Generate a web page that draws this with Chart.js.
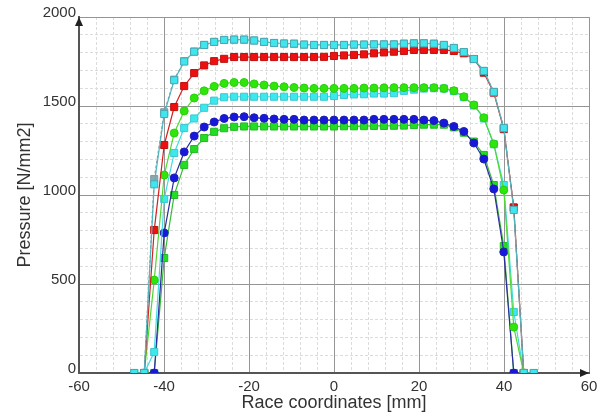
<!DOCTYPE html>
<html>
<head>
<meta charset="utf-8">
<script src="https://cdn.jsdelivr.net/npm/chart.js@4/dist/chart.umd.min.js"></script>
<style>
  html, body { margin: 0; padding: 0; background: #fff; overflow: hidden; }
  #wrap { width: 597px; height: 415px; overflow: hidden; }
</style>
</head>
<body>
<div id="wrap"><canvas id="pressureChart" width="640" height="415"></canvas></div>
<script>
// race coordinate of each sample [mm]
const raceX = [-47.0, -44.65, -42.3, -39.95, -37.6, -35.25, -32.9, -30.55, -28.2, -25.85,
    -23.5, -21.15, -18.8, -16.45, -14.1, -11.75, -9.4, -7.05, -4.7, -2.35, 0,
    2.35, 4.7, 7.05, 9.4, 11.75, 14.1, 16.45, 18.8, 21.15, 23.5, 25.85, 28.2,
    30.55, 32.9, 35.25, 37.6, 39.95, 42.3, 44.65, 47.0];

// pressure curves [N/mm2]
const cyanTop = [0, 0, 1060, 1455, 1645, 1750, 1805, 1843, 1860, 1871, 1873, 1873, 1868, 1860,
    1854, 1851, 1850, 1845, 1843, 1843, 1843, 1843, 1845, 1845, 1846, 1846, 1846, 1850, 1852,
    1852, 1850, 1843, 1826, 1803, 1764, 1697, 1579, 1376, 916, 0, 0];
const grayTop = [null, 0, 1090, 1465, 1648, 1752, 1806, 1843, 1860, 1871, 1873, 1873, 1868, 1860,
    1854, 1851, 1850, 1845, 1843, 1843, 1843, 1843, 1845, 1845, 1846, 1846, 1846, 1850, 1852,
    1852, 1850, 1843, 1826, 1803, 1764, 1697, 1579, 1376, 930, 0, null];
const redCurve = [null, 0, 803, 1281, 1494, 1612, 1685, 1728, 1752, 1765, 1775, 1775, 1775, 1775,
    1775, 1775, 1775, 1775, 1775, 1776, 1781, 1784, 1787, 1790, 1796, 1801, 1805, 1809, 1815,
    1815, 1815, 1815, 1809, 1796, 1764, 1687, 1575, 1370, 930, 0, null];
const greenUpper = [null, 0, 522, 1112, 1348, 1472, 1545, 1585, 1610, 1627, 1632, 1632, 1624, 1618,
    1612, 1608, 1604, 1601, 1599, 1599, 1599, 1599, 1599, 1601, 1601, 1602, 1603, 1603, 1603,
    1603, 1603, 1599, 1586, 1552, 1506, 1434, 1287, 1028, 258, 0, null];
const cyanLower = [0, 0, 118, 978, 1236, 1376, 1430, 1490, 1530, 1549, 1552, 1552, 1552, 1552,
    1552, 1552, 1552, 1552, 1552, 1552, 1556, 1562, 1565, 1566, 1570, 1570, 1572, 1585, 1592,
    1598, 1600, 1598, 1584, 1550, 1503, 1430, 1285, 1056, 343, 0, 0];
const blueCurve = [null, null, 0, 787, 1096, 1242, 1331, 1382, 1410, 1430, 1438, 1440, 1434, 1431,
    1427, 1425, 1425, 1421, 1421, 1421, 1421, 1421, 1421, 1421, 1425, 1425, 1425, 1425, 1425,
    1421, 1418, 1404, 1385, 1357, 1292, 1202, 1034, 680, 0, null, null];
const greenLower = [null, null, 0, 646, 1000, 1169, 1258, 1320, 1355, 1375, 1383, 1385, 1385, 1385,
    1385, 1385, 1385, 1385, 1385, 1385, 1385, 1386, 1386, 1387, 1388, 1388, 1389, 1390, 1393,
    1395, 1395, 1395, 1380, 1350, 1300, 1225, 1056, 713, 0, null, null];

function toPoints(values) {
    return raceX.map((x, i) => ({ x, y: values[i] })).filter(p => p.y !== null);
}

function series(values, line, fill, edge, shape, dash) {
    return {
        data: toPoints(values),
        borderColor: line,
        borderWidth: 1.2,
        borderDash: dash || [],
        backgroundColor: fill,
        pointBackgroundColor: fill,
        pointBorderColor: edge,
        pointBorderWidth: 1,
        pointStyle: shape,
        pointRadius: shape === "rect" ? 5 : 4,
        tension: 0,
        fill: false
    };
}

const font = "'Liberation Sans', Arial, sans-serif";

const arrows = {
    id: "arrows",
    afterDraw(chart) {
        const { ctx, chartArea: a } = chart;
        ctx.save();
        ctx.fillStyle = "#222";
        ctx.beginPath();
        ctx.moveTo(a.left, a.top);
        ctx.lineTo(a.left - 4, a.top + 9);
        ctx.lineTo(a.left + 4, a.top + 9);
        ctx.fill();
        ctx.beginPath();
        ctx.moveTo(a.right, a.bottom);
        ctx.lineTo(a.right - 9, a.bottom - 4);
        ctx.lineTo(a.right - 9, a.bottom + 4);
        ctx.fill();
        ctx.restore();
    }
};

new Chart(document.getElementById("pressureChart"), {
    type: "line",
    data: {
        datasets: [
            series(cyanTop, "#52b6bf", "#3fe6ee", "#4aa9b2", "rect"),
            series(redCurve, "#d42020", "#ee1010", "#c01010", "rect"),
            series(greenUpper, "#4fd830", "#2ee60a", "#2ccc10", "circle"),
            series(cyanLower, "#3fdde0", "#3ae8ee", "#3cc8d0", "rect"),
            series(blueCurve, "#2c2ca0", "#1818dc", "#2020b0", "circle"),
            series(greenLower, "#36bb36", "#22dd22", "#22bb22", "rect"),
            series(grayTop, "#7f9aa2", "#8ea6ae", "#7f9aa2", "rect", [3, 2])
        ]
    },
    options: {
        responsive: false,
        animation: false,
        layout: { padding: { top: 17, right: 51, left: 0, bottom: 0 } },
        plugins: { legend: { display: false }, tooltip: { enabled: false } },
        scales: {
            x: {
                type: "linear",
                min: -60,
                max: 60,
                afterFit: s => { s.height = 42; },
                ticks: {
                    stepSize: 4,
                    autoSkip: false,
                    maxRotation: 0,
                    padding: 5,
                    color: "#333",
                    font: { family: font, size: 15 },
                    callback: v => (v % 20 === 0 ? v : "")
                },
                grid: {
                    drawTicks: false,
                    color: c => (c.tick && c.tick.value % 20 === 0 ? "#959595" : "#dcdcdc"),
                    lineWidth: 1
                },
                border: {
                    color: "#555",
                    width: 2,
                    dash: c => (c.tick && c.tick.value % 20 !== 0 ? [3, 2] : [])
                },
                title: {
                    display: true,
                    text: "Race coordinates [mm]",
                    color: "#333",
                    font: { family: font, size: 18 },
                    padding: { top: 0, bottom: 1 }
                }
            },
            y: {
                min: 0,
                max: 2000,
                afterFit: s => { s.width = 79; },
                ticks: {
                    stepSize: 100,
                    autoSkip: false,
                    padding: 3,
                    labelOffset: -4,
                    color: "#333",
                    font: { family: font, size: 15 },
                    callback: v => (v % 500 === 0 ? v : "")
                },
                grid: {
                    drawTicks: false,
                    color: c => (c.tick && c.tick.value % 500 === 0 ? "#959595" : "#dcdcdc"),
                    lineWidth: 1
                },
                border: {
                    color: "#555",
                    width: 2,
                    dash: c => (c.tick && c.tick.value % 500 !== 0 ? [3, 2] : [])
                },
                title: {
                    display: true,
                    text: "Pressure [N/mm2]",
                    color: "#333",
                    font: { family: font, size: 18 },
                    padding: { top: 14, bottom: 0 }
                }
            }
        }
    },
    plugins: [arrows]
});
</script>
</body>
</html>
